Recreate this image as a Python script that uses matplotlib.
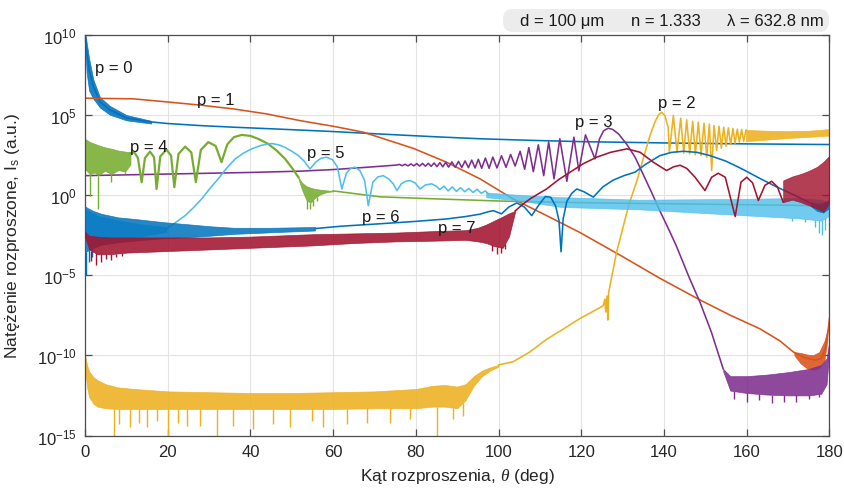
import numpy as np
import matplotlib
matplotlib.use("Agg")
import matplotlib.pyplot as plt
from matplotlib.patches import FancyBboxPatch
from matplotlib.transforms import IdentityTransform
from matplotlib.ticker import FixedLocator, NullLocator

plt.rcParams['font.family'] = ['Liberation Sans', 'DejaVu Sans']
plt.rcParams['mathtext.fontset'] = 'custom'
plt.rcParams['mathtext.rm'] = 'Liberation Sans'
plt.rcParams['mathtext.it'] = 'Liberation Serif:italic'
plt.rcParams['mathtext.bf'] = 'Liberation Sans:bold'

# ---------------------------------------------------------------------------
# Debye-series scattered intensity, log10(I) versus scattering angle (deg)
# ---------------------------------------------------------------------------
COLORS = ['#0072BD', '#D95319', '#EDB120', '#7E2F8E',
          '#77AC30', '#4DBEEE', '#0072BD', '#A2142F']
LABELS = ['p = 0', 'p = 1', 'p = 2', 'p = 3', 'p = 4', 'p = 5', 'p = 6', 'p = 7']
LABEL_THETA = [2.4, 27.0, 138.6, 118.5, 10.9, 53.6, 66.9, 85.4]
LABEL_LOG = [7.67, 5.67, 5.47, 4.32, 2.76, 2.35, -1.6, -2.33]

# p = 0
P0_THETA = [0, 0.4, 1, 2, 3.6, 6, 10, 16, 20, 28, 36, 47, 60, 71, 85, 95.5,
            108, 120, 140, 160, 180]
P0_LOG = [10.0, 9.0, 7.8, 6.8, 5.8, 5.3, 4.8, 4.55, 4.45, 4.32, 4.22, 4.1,
          3.95, 3.8, 3.62, 3.5, 3.4, 3.32, 3.24, 3.18, 3.14]
P0_BAND_THETA = [0.2, 0.4, 1, 2, 3.6, 6, 10, 16]
P0_BAND_TOP = [9.9, 9.5, 8.5, 7.2, 6.1, 5.55, 4.98, 4.62]
P0_BAND_BOT = [8.6, 7.6, 6.5, 6.0, 5.45, 5.0, 4.65, 4.45]

# p = 1
P1_THETA = [0, 11.7, 19.7, 27.8, 35.9, 43.9, 52, 60, 67.3, 79.4, 87.4, 95.5,
            103.5, 111.6, 119.7, 130, 139, 148.7, 156, 163.2, 168, 171.3,
            174, 176.5, 178, 179, 179.6, 180]
P1_LOG = [6.03, 5.99, 5.8, 5.6, 5.36, 5.05, 4.63, 4.28, 3.91, 2.9, 2.04, 1.0,
          -0.25, -1.29, -2.35, -3.85, -5.2, -6.55, -7.5, -8.35, -9.1, -9.8,
          -10.15, -10.3, -10.2, -9.6, -8.6, -7.7]
P1_BAND_THETA = [171.5, 173, 174.5, 176, 177.5, 178.8, 179.5]
P1_BAND_TOP = [-9.8, -9.85, -9.95, -10.0, -9.8, -9.1, -8.4]
P1_BAND_BOT = [-10.0, -10.5, -10.8, -10.9, -10.8, -10.3, -9.0]

# p = 2
P2_BAND_THETA = [0, 0.5, 1, 2, 3, 5, 8, 12, 20, 30, 40, 50, 60, 70, 80, 84,
                 87, 90, 92, 94, 96, 98, 100]
P2_BAND_TOP = [-10.0, -10.6, -11.0, -11.35, -11.55, -11.8, -12.0, -12.1,
               -12.25, -12.3, -12.35, -12.35, -12.3, -12.25, -12.1, -11.9,
               -11.85, -11.95, -11.8, -11.3, -10.95, -10.75, -10.6]
P2_BAND_BOT = [-10.8, -12.0, -12.6, -13.0, -13.2, -13.3, -13.35, -13.35,
               -13.35, -13.35, -13.35, -13.35, -13.35, -13.3, -13.3, -13.2,
               -13.2, -13.3, -12.8, -11.9, -11.3, -10.95, -10.7]
P2_SPIKE_THETA = [6.9, 8.1, 10.9, 13.0, 14.9, 17.5, 20.1, 22.5, 24.6, 27.8,
                  31.8, 35.9, 40.6, 45.5, 49.6, 54.8, 57.6, 63.3, 68.1, 73.7,
                  78.6, 85.0, 89.0, 91.3]
P2_SPIKE_LOG = [-15, -14.3, -14.5, -14.2, -14.5, -14.1, -15, -14.2, -14.4,
                -14.4, -15, -14.4, -14.6, -14.3, -14.5, -14.1, -14.5, -14.3,
                -14.2, -14.2, -14.0, -15, -14.0, -13.8]
P2_THETA = [100, 103.5, 107.5, 111.6, 114.8, 119.7, 124.0, 125.3, 125.7,
            125.9, 126.2, 126.4, 126.6, 127.5, 128.5, 130.0, 131.5, 133.4,
            135.0, 136.6, 137.8, 138.7, 139.4, 140.2, 141.0, 141.28,
            142.25, 143.13, 144.02, 144.75, 145.47, 146.2, 146.92, 147.57,
            148.29, 148.94, 149.66, 150.31, 150.95, 151.51, 152.08, 152.72,
            153.29, 153.85, 154.42, 154.98, 155.54, 156.1, 156.67, 157.16,
            157.72, 158.2, 158.77, 159.25, 159.81]
P2_LOG = [-10.6, -10.4, -9.8, -9.0, -8.5, -7.7, -7.1, -6.9, -6.5, -7.3, -6.3,
          -7.8, -6.1, -4.9, -3.6, -2.1, -0.6, 0.85, 2.3, 3.7, 4.55, 5.0, 5.15,
          4.95, 4.2, 2.66, 4.95, 2.66, 4.78, 2.60, 4.68, 2.56, 4.59, 2.50,
          4.53, 2.45, 4.47, 2.35, 4.41, 1.52, 4.32, 2.77, 4.28, 2.91, 4.22,
          3.04, 4.18, 3.14, 4.14, 3.22, 4.10, 3.29, 4.08, 3.33, 4.05]
P2_TAIL_THETA = [159.8, 165, 170, 175, 180]
P2_TAIL_TOP = [4.05, 4.0, 3.98, 4.0, 4.1]
P2_TAIL_BOT = [3.35, 3.45, 3.55, 3.62, 3.7]

# p = 3
P3_THETA = [0, 20, 40, 52, 60, 68, 75.3,
            76.0, 76.7, 77.4, 78.1, 78.8, 79.5, 80.2, 80.9, 81.6, 82.3, 83.0,
            83.7, 84.4, 85.1, 85.8, 86.5, 87.2, 87.9, 88.7, 89.5, 90.3, 91.1,
            91.9, 92.7, 93.5, 94.3, 95.1, 95.9, 96.8, 97.7, 98.6, 99.6, 100.7,
            101.8, 102.9, 104.0, 105.2, 106.3, 107.3, 108.4, 109.6, 110.9,
            112.1, 113.4, 114.8, 116.5, 118.2, 119.4, 121.0, 123.3, 124.4,
            125.4, 126.5, 127.6, 129, 131, 133, 135, 137, 139, 141.4, 143,
            146, 148.7, 151.5, 154.3]
P3_LOG = [1.2, 1.3, 1.4, 1.48, 1.58, 1.72, 1.86,
          1.90, 1.82, 1.91, 1.81, 1.93, 1.81, 1.95, 1.80, 1.96, 1.79, 1.97,
          1.78, 1.99, 1.76, 2.01, 1.75, 2.03, 1.73, 2.06, 1.72, 2.09, 1.71,
          2.12, 1.70, 2.17, 1.68, 2.22, 1.66, 2.30, 1.66, 2.36, 1.68, 2.44,
          1.72, 2.52, 1.80, 2.72, 1.60, 2.95, 1.45, 3.12, 1.20, 3.30, 1.00,
          3.50, 0.85, 3.60, 1.50, 3.74, 2.25, 3.50, 4.00, 4.16, 4.08, 3.80,
          3.15, 2.35, 1.25, 0.15, -1.0, -2.3, -3.2, -5.1, -6.7, -8.6, -10.85]
P3_BAND_THETA = [154.3, 156, 160, 165, 170, 175, 178, 179.3, 180]
P3_BAND_TOP = [-10.85, -11.3, -11.3, -11.2, -11.05, -10.85, -10.6, -10.2, -9.0]
P3_BAND_BOT = [-11.0, -12.2, -12.35, -12.45, -12.5, -12.5, -12.4, -11.8, -9.5]
P3_SPIKE_THETA = [157, 160, 163, 166, 169, 172, 175, 177.5]
P3_SPIKE_LOG = [-12.7, -12.9, -12.8, -13.0, -12.9, -12.9, -12.7, -12.6]

# p = 4
P4_BAND_THETA = [0, 1.2, 2.4, 3.2, 4.8, 6.4, 8.1, 9.7, 11.0]
P4_BAND_TOP = [3.49, 3.3, 3.18, 3.1, 2.97, 2.88, 2.76, 2.7, 2.66]
P4_BAND_BOT = [1.6, 1.3, 1.4, 1.2, 1.5, 1.3, 1.55, 1.45, 1.9]
P4_SPIKE_THETA = [1.2, 3.2, 6.4, 9.7]
P4_SPIKE_LOG = [-0.04, -0.87, 0.79, 1.31]
P4_THETA = [11.0, 11.9, 12.8, 13.7, 14.5, 15.7, 16.7, 17.3, 18.2, 19.7, 20.8,
            21.6, 22.6, 24.2, 25.7, 26.8, 28.0, 29.8, 31.6, 33.0, 34.4, 36.0,
            37.9, 40.0, 42.0, 44.3, 46.4, 48.4, 50.0, 51.6]
P4_LOG = [2.6, 2.66, 2.3, 0.79, 2.3, 2.70, 2.35, 0.37, 2.4, 2.83, 2.45, 0.48,
          2.55, 3.01, 2.65, 0.79, 2.8, 3.29, 3.05, 2.04, 3.15, 3.6, 3.74, 3.68,
          3.48, 3.18, 2.75, 2.24, 1.7, 1.1]
P4_TAIL_BAND_THETA = [51.6, 52.5, 53.5, 54.5, 55.5, 57, 58.5, 60]
P4_TAIL_BAND_TOP = [1.1, 0.75, 0.55, 0.45, 0.38, 0.32, 0.28, 0.25]
P4_TAIL_BAND_BOT = [1.0, 0.3, -0.3, -0.5, -0.2, 0.05, 0.18, 0.22]
P4_TAIL_SPIKE_THETA = [53.6, 54.4, 55.1, 56.0]
P4_TAIL_SPIKE_LOG = [-0.85, -0.9, -0.7, -0.4]
P4_TAIL_THETA = [60, 71.3, 85, 100, 115, 130, 150, 165, 180]
P4_TAIL_LOG = [0.25, -0.12, -0.25, -0.38, -0.46, -0.52, -0.58, -0.63, -0.68]

# p = 5
P5_BAND_THETA = [0, 3, 8, 14, 19.7]
P5_BAND_TOP = [-0.9, -1.3, -1.6, -1.85, -2.0]
P5_BAND_BOT = [-2.7, -2.75, -2.7, -2.55, -2.3]
P5_THETA = [19.7, 22, 24.2, 26.2, 28.2, 30.2, 32.2, 34.2, 36.3, 38.3, 40.3,
            42.5, 44.3, 45.3, 46.8, 48.3, 50.0, 51.6, 53.0, 54.4, 55.8, 57.0,
            58.4, 59.8, 61.0, 62.1, 63.2, 64.2, 65.3, 66.5, 67.6, 68.5, 69.6,
            70.8, 72.1, 73.4, 74.5, 75.4, 76.5, 77.5, 78.6, 79.8, 81.0, 82.3,
            83.8, 84.9, 85.8, 86.8, 87.8, 88.8, 89.8, 90.8, 91.8, 92.8, 93.8,
            94.8, 95.8, 96.8, 97.5]
P5_LOG = [-2.12, -1.7, -1.29, -0.8, -0.25, 0.4, 1.0, 1.65, 2.24, 2.6, 2.87,
          3.08, 3.18, 3.2, 3.12, 2.97, 2.72, 2.45, 2.1, 1.62, 2.05, 2.28,
          2.35, 2.2, 1.75, 0.37, 1.35, 1.65, 1.73, 1.5, 0.9, -0.67, 0.8, 1.12,
          1.2, 1.0, 0.7, 0.27, 0.7, 0.85, 0.89, 0.75, 0.37, 0.62, 0.69, 0.55,
          0.33, 0.55, 0.25, 0.5, 0.22, 0.45, 0.2, 0.4, 0.15, 0.35, 0.1, 0.25,
          0.05]
P5_TAIL_THETA = [97, 105, 115, 134, 158, 172, 178, 180]
P5_TAIL_TOP = [0.15, 0.0, -0.14, -0.3, -0.25, -0.2, -0.3, -0.5]
P5_TAIL_BOT = [-0.15, -0.35, -0.75, -0.9, -1.25, -1.45, -1.6, -1.3]
P5_SPIKE_THETA = [171, 174, 176.5, 177.5, 178.3, 179]
P5_SPIKE_LOG = [-1.6, -1.7, -2.0, -2.4, -2.5, -2.2]

# p = 6
P6_BAND_THETA = [0, 0.5, 2, 4, 8, 12, 19, 24, 30, 36, 45, 55.6]
P6_BAND_TOP = [-0.7, -0.8, -1.0, -1.18, -1.4, -1.5, -1.7, -1.81, -1.95, -2.05,
               -2.05, -2.0]
P6_BAND_BOT = [-3.6, -3.5, -3.3, -3.1, -2.95, -2.85, -2.7, -2.64, -2.55, -2.43,
               -2.33, -2.22]
P6_SPIKE_THETA = [0.3, 1.0, 1.8]
P6_SPIKE_LOG = [-5.0, -4.2, -3.9]
P6_THETA = [55.6, 62, 71.3, 80, 87.4, 92, 95.5, 97.5, 98.7, 100.7, 102.5,
            104.4, 106.2, 108, 109.8, 111.3, 112.6, 113.8, 114.6, 115.1,
            115.6, 116.5, 117.7, 118.9, 120.6, 122.9, 125.2, 127.7, 130.3,
            133.0, 135.5, 139, 141.8, 144.7, 148, 151.1, 155, 159, 163, 167.2,
            171, 175.3, 177.5, 179, 180]
P6_LOG = [-2.1, -1.95, -1.8, -1.65, -1.5, -1.35, -1.2, -1.05, -0.98, -1.18,
          -0.75, -0.5, -0.75, -1.29, -0.6, -0.1, -0.15, -0.7, -1.6, -3.55,
          -1.5, -0.4, 0.1, 0.37, 0.2, -0.14, 0.5, 0.92, 1.2, 1.42, 1.9, 2.45,
          2.65, 2.72, 2.65, 2.45, 2.1, 1.6, 1.05, 0.5, 0.05, -0.5, -0.8,
          -0.75, -0.4]
P6_TAIL_THETA = [175.5, 177, 178.5, 180]
P6_TAIL_TOP = [-0.45, -0.55, -0.5, -0.3]
P6_TAIL_BOT = [-0.7, -1.0, -1.1, -0.8]

# p = 7
P7_BAND_THETA = [0, 1, 3, 6, 10, 15, 20, 30, 40, 55, 65, 75, 85, 92, 95, 97,
                 99, 101, 102.5, 104]
P7_BAND_TOP = [-2.3, -2.55, -2.6, -2.65, -2.65, -2.65, -2.65, -2.65, -2.6,
               -2.45, -2.4, -2.35, -2.25, -2.2, -2.05, -1.85, -1.6, -1.35,
               -1.15, -1.0]
P7_BAND_BOT = [-2.6, -3.4, -3.7, -3.7, -3.6, -3.55, -3.5, -3.4, -3.3, -3.15,
               -3.0, -2.9, -2.85, -2.8, -2.9, -3.0, -3.2, -3.3, -2.6, -1.05]
P7_SPIKE_THETA = [1.5, 2.6, 3.8, 5.0, 6.3, 7.5, 9.0, 98.5, 99.5, 100.5, 101.5]
P7_SPIKE_LOG = [-4.1, -4.4, -4.2, -4.0, -4.05, -3.9, -3.8, -3.5, -3.7, -3.6,
                -3.4]
P7_THETA = [104, 106, 107.6, 109.5, 111.6, 114.5, 117.3, 120.5, 123.7, 127,
            131, 134.2, 137.4, 140.6, 142.3, 143.9, 145.5, 147.5, 149.9, 151.5,
            153.1, 154.8, 157.2, 158.6, 160, 161.4, 162.8, 164.4, 166, 167.4,
            168.8]
P7_LOG = [-1.0, -0.55, -0.25, 0.05, 0.37, 0.95, 1.42, 1.95, 2.35, 2.65, 2.87,
          2.66, 2.04, 1.52, 1.75, 1.85, 1.65, 1.1, 0.27, 1.1, 1.35, 1.1,
          -1.35, 0.8, 1.1, 0.75, -0.35, 0.6, 0.85, 0.5, -0.45]
P7_TAIL_THETA = [168.8, 171, 173, 175, 177, 178.5, 180]
P7_TAIL_TOP = [0.9, 1.15, 1.3, 1.5, 1.75, 2.05, 2.45]
P7_TAIL_BOT = [-0.45, -0.3, -0.45, -0.65, -0.85, -1.05, -0.5]

INFO = ['d = 100 \u03bcm', 'n = 1.333', '\u03bb = 632.8 nm']
X_TICKS = list(range(0, 181, 20))
Y_TICK_EXP = [-15, -10, -5, 0, 5, 10]

# ---------------------------------------------------------------------------
W, H = 845, 489
fig = plt.figure(figsize=(W / 100, H / 100), dpi=100)
ax = fig.add_axes([85 / W, 1 - 436.5 / H, 744.5 / W, 401 / H])
ax.set_yscale('log')


def pw(v):
    return 10.0 ** np.asarray(v, dtype=float)


def curve(th, lg, c, z, lw=1.15):
    ax.plot(th, pw(lg), color=c, lw=lw, zorder=z, solid_joinstyle='round')


def band(th, top, bot, c, z, alpha=0.88):
    ax.fill_between(th, pw(bot), pw(top), facecolor=c, edgecolor=c,
                    lw=0.5, alpha=alpha, zorder=z)


def spikes(th, lg, band_th, band_top, c, z):
    base = np.interp(th, band_th, band_top)
    ax.vlines(th, pw(lg), pw(base), colors=c, lw=1.0, zorder=z)


# p = 0
z = 2.0
band(P0_BAND_THETA, P0_BAND_TOP, P0_BAND_BOT, COLORS[0], z)
curve(P0_THETA, P0_LOG, COLORS[0], z)
# p = 1
z = 2.1
curve(P1_THETA, P1_LOG, COLORS[1], z)
band(P1_BAND_THETA, P1_BAND_TOP, P1_BAND_BOT, COLORS[1], z)
# p = 2
z = 2.2
band(P2_BAND_THETA, P2_BAND_TOP, P2_BAND_BOT, COLORS[2], z)
spikes(P2_SPIKE_THETA, P2_SPIKE_LOG, P2_BAND_THETA, P2_BAND_BOT, COLORS[2], z)
curve(P2_THETA, P2_LOG, COLORS[2], z)
band(P2_TAIL_THETA, P2_TAIL_TOP, P2_TAIL_BOT, COLORS[2], z)
# p = 3
z = 2.3
curve(P3_THETA, P3_LOG, COLORS[3], z)
band(P3_BAND_THETA, P3_BAND_TOP, P3_BAND_BOT, COLORS[3], z)
spikes(P3_SPIKE_THETA, P3_SPIKE_LOG, P3_BAND_THETA, P3_BAND_BOT, COLORS[3], z)
# p = 4
z = 2.4
band(P4_BAND_THETA, P4_BAND_TOP, P4_BAND_BOT, COLORS[4], z)
spikes(P4_SPIKE_THETA, P4_SPIKE_LOG, P4_BAND_THETA, P4_BAND_BOT, COLORS[4], z)
curve(P4_THETA, P4_LOG, COLORS[4], z, lw=1.6)
band(P4_TAIL_BAND_THETA, P4_TAIL_BAND_TOP, P4_TAIL_BAND_BOT, COLORS[4], z)
spikes(P4_TAIL_SPIKE_THETA, P4_TAIL_SPIKE_LOG, P4_TAIL_BAND_THETA,
       P4_TAIL_BAND_BOT, COLORS[4], z)
curve(P4_TAIL_THETA, P4_TAIL_LOG, COLORS[4], z)
# p = 5
z = 2.5
band(P5_BAND_THETA, P5_BAND_TOP, P5_BAND_BOT, COLORS[5], z)
curve(P5_THETA, P5_LOG, COLORS[5], z)
band(P5_TAIL_THETA, P5_TAIL_TOP, P5_TAIL_BOT, COLORS[5], z, alpha=0.8)
spikes(P5_SPIKE_THETA, P5_SPIKE_LOG, P5_TAIL_THETA, P5_TAIL_BOT, COLORS[5], z)
# p = 6
z = 2.6
band(P6_BAND_THETA, P6_BAND_TOP, P6_BAND_BOT, COLORS[6], z, alpha=0.85)
spikes(P6_SPIKE_THETA, P6_SPIKE_LOG, P6_BAND_THETA, P6_BAND_BOT, COLORS[6], z)
curve(P6_THETA, P6_LOG, COLORS[6], z)
band(P6_TAIL_THETA, P6_TAIL_TOP, P6_TAIL_BOT, COLORS[6], z)
# p = 7
z = 2.7
band(P7_BAND_THETA, P7_BAND_TOP, P7_BAND_BOT, COLORS[7], z)
spikes(P7_SPIKE_THETA, P7_SPIKE_LOG, P7_BAND_THETA, P7_BAND_BOT, COLORS[7], z)
curve(P7_THETA, P7_LOG, COLORS[7], z)
band(P7_TAIL_THETA, P7_TAIL_TOP, P7_TAIL_BOT, COLORS[7], z, alpha=0.82)

# curve labels
for txt, th, lg in zip(LABELS, LABEL_THETA, LABEL_LOG):
    ax.text(th, 10.0 ** lg, txt, fontsize=12, color='#1a1a1a',
            ha='left', va='baseline', zorder=5)

# axes styling
ax.set_xlim(0, 180)
ax.set_ylim(1e-15, 1e10)
ax.xaxis.set_major_locator(FixedLocator(X_TICKS))
ax.yaxis.set_major_locator(FixedLocator([10.0 ** e for e in Y_TICK_EXP]))
ax.yaxis.set_minor_locator(NullLocator())
ax.set_yticklabels([r'$\mathregular{10^{%d}}$' % e for e in Y_TICK_EXP])
ax.grid(True, color='#e3e3e3', lw=0.8, zorder=0)
ax.set_axisbelow(True)
for s in ax.spines.values():
    s.set_color('#4d4d4d')
    s.set_linewidth(0.9)
ax.tick_params(direction='in', length=5, width=0.9, color='#4d4d4d',
               labelsize=12, labelcolor='#262626', top=True, right=True,
               pad=6)

ax.set_xlabel('K\u0105t rozproszenia, $\\theta$ (deg)', fontsize=12.5,
              color='#262626')
ax.set_ylabel('Nat\u0119\u017cenie rozproszone, I$_\\mathregular{s}$ (a.u.)',
              fontsize=12.5, color='#262626')
ax.xaxis.set_label_coords(0.5, -0.075)
ax.yaxis.set_label_coords(-0.085, 0.5)

# parameter box above the axes
box = FancyBboxPatch((503, H - 33), 326, 23,
                     boxstyle='round,pad=0,rounding_size=10',
                     transform=IdentityTransform(), facecolor='#ececec',
                     edgecolor='none')
fig.add_artist(box)
for txt, xc in zip(INFO, [562, 666, 775]):
    fig.text(xc / W, 1 - 21.5 / H, txt, fontsize=12, color='#1a1a1a',
             ha='center', va='center')

fig.savefig('out.png', dpi=100)
